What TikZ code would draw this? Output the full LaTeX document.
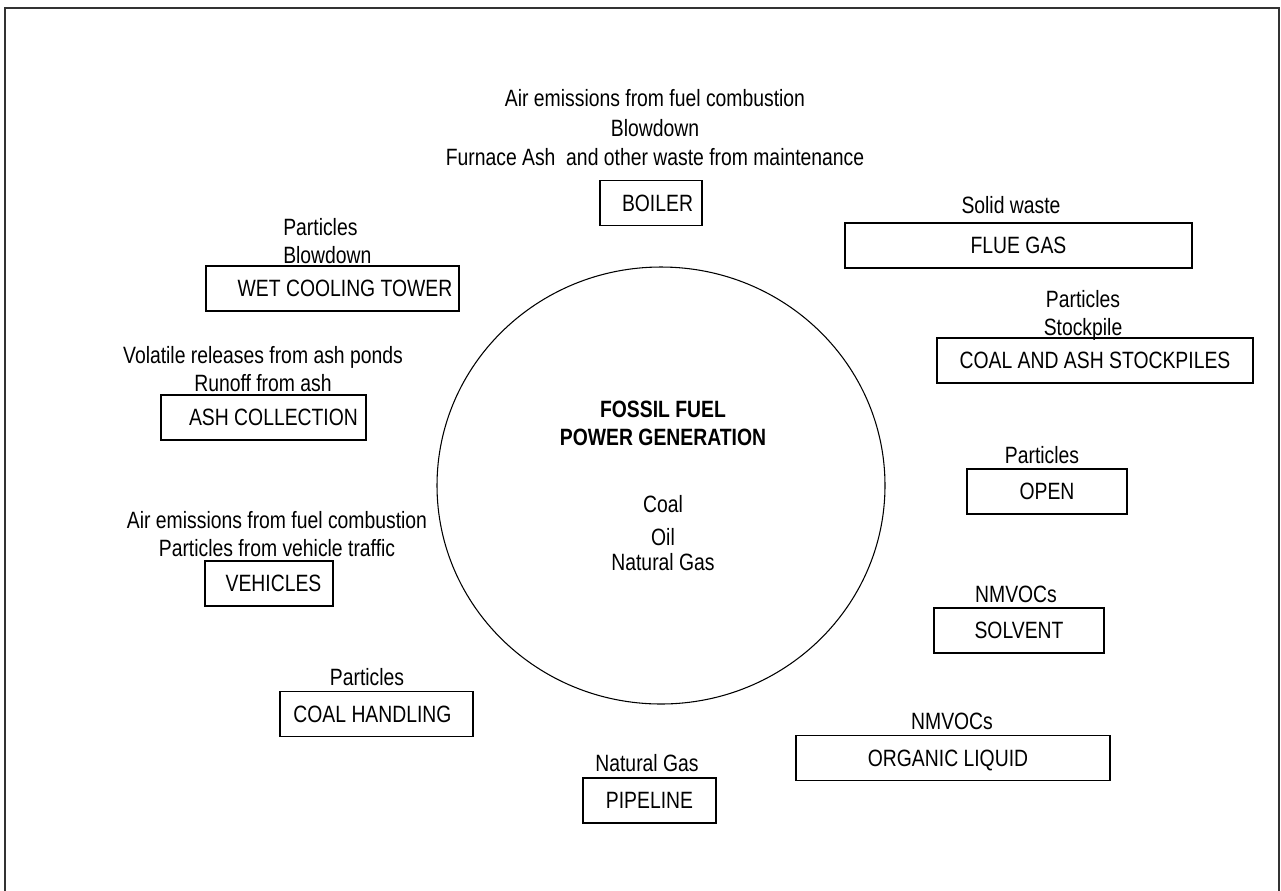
\documentclass[tikz,border=0pt]{standalone}
\usepackage{fontspec}
\usetikzlibrary{shapes.geometric}
\newfontfamily\arn{Liberation Sans}[FakeStretch=0.82]
\newcommand\dfont{\arn\fontsize{17.7pt}{21pt}\selectfont}
\begin{document}
\begin{tikzpicture}[x=0.75pt,y=-0.75pt,
  lbl/.style={font=\dfont, inner sep=0pt, anchor=base},
  lbll/.style={font=\dfont, inner sep=0pt, anchor=base west},
  bx/.style={draw, line width=0.9pt, font=\dfont, inner sep=0pt,
    minimum width=#1*0.75pt, minimum height=33.75pt,
    text height=12.7pt, text depth=0pt}]
\useasboundingbox (0,0) rectangle (1281,890);
% frame (open at the bottom)
\coordinate (fbl) at (5,900);
\coordinate (ftl) at (5,8);
\coordinate (ftr) at (1279,8);
\coordinate (fbr) at (1279,900);
\draw[line width=1.2pt, black!80] (fbl) -- (ftl) -- (ftr) -- (fbr);

% central circle
\node[draw, ellipse, line width=0.8pt, inner sep=0pt,
  minimum width=448*0.75pt, minimum height=437*0.75pt] (circ) at (661,485.5) {};
\node[lbl, font=\dfont\bfseries] (c1) at (663,417) {FOSSIL FUEL};
\node[lbl, font=\dfont\bfseries] (c2) at (663,445) {POWER GENERATION};
\node[lbl] (c3) at (663,512) {Coal};
\node[lbl] (c4) at (663,545.5) {Oil};
\node[lbl] (c5) at (663,570.5) {Natural Gas};

% boiler
\node[lbl] (t1) at (655,106) {Air emissions from fuel combustion};
\node[lbl] (t2) at (655,136) {Blowdown};
\node[lbl] (t3) at (655,165) {Furnace Ash\ \ and other waste from maintenance};
\node[bx=102] (boiler) at (651,203) {\hspace*{9.75pt}BOILER};

% flue gas
\node[lbl] (fg1) at (1011,213.5) {Solid waste};
\node[bx=347] (flue) at (1018.5,245.5) {FLUE GAS};

% wet cooling tower
\node[lbll] (w1) at (283,235) {Particles};
\node[lbll] (w2) at (283,263) {Blowdown};
\node[bx=253] (wet) at (332.5,288.5) {\hspace*{18.75pt}WET COOLING TOWER};

% coal and ash stockpiles
\node[lbl] (s1) at (1083,307) {Particles};
\node[lbl] (s2) at (1083,335) {Stockpile};
\node[bx=316] (stock) at (1095,360.5) {COAL AND ASH STOCKPILES};

% ash collection
\node[lbl] (a1) at (263,363.5) {Volatile releases from ash ponds};
\node[lbl] (a2) at (263,391.5) {Runoff from ash};
\node[bx=205] (ash) at (263.5,417.5) {\hspace*{15pt}ASH COLLECTION};

% vehicles
\node[lbl] (v1) at (277,528) {Air emissions from fuel combustion};
\node[lbl] (v2) at (277,556) {Particles from vehicle traffic};
\node[bx=128] (veh) at (269,583.5) {\hspace*{6.75pt}VEHICLES};

% open
\node[lbl] (o1) at (1042,463.5) {Particles};
\node[bx=160] (open) at (1047,491.5) {OPEN};

% solvent
\node[lbl] (sv1) at (1016,602) {NMVOCs};
\node[bx=170] (solv) at (1019,630.5) {SOLVENT};

% coal handling
\node[lbl] (ch1) at (367,685.5) {Particles};
\node[bx=193] (coalh) at (376.5,714) {\hspace*{-6pt}COAL HANDLING};

% pipeline
\node[lbl] (p1) at (647,771.5) {Natural Gas};
\node[bx=133] (pipe) at (649.5,800.5) {PIPELINE};

% organic liquid
\node[lbl] (ol1) at (952,729.5) {NMVOCs};
\node[bx=314] (org) at (953,758) {\hspace*{-7.5pt}ORGANIC LIQUID};
\end{tikzpicture}
\end{document}
